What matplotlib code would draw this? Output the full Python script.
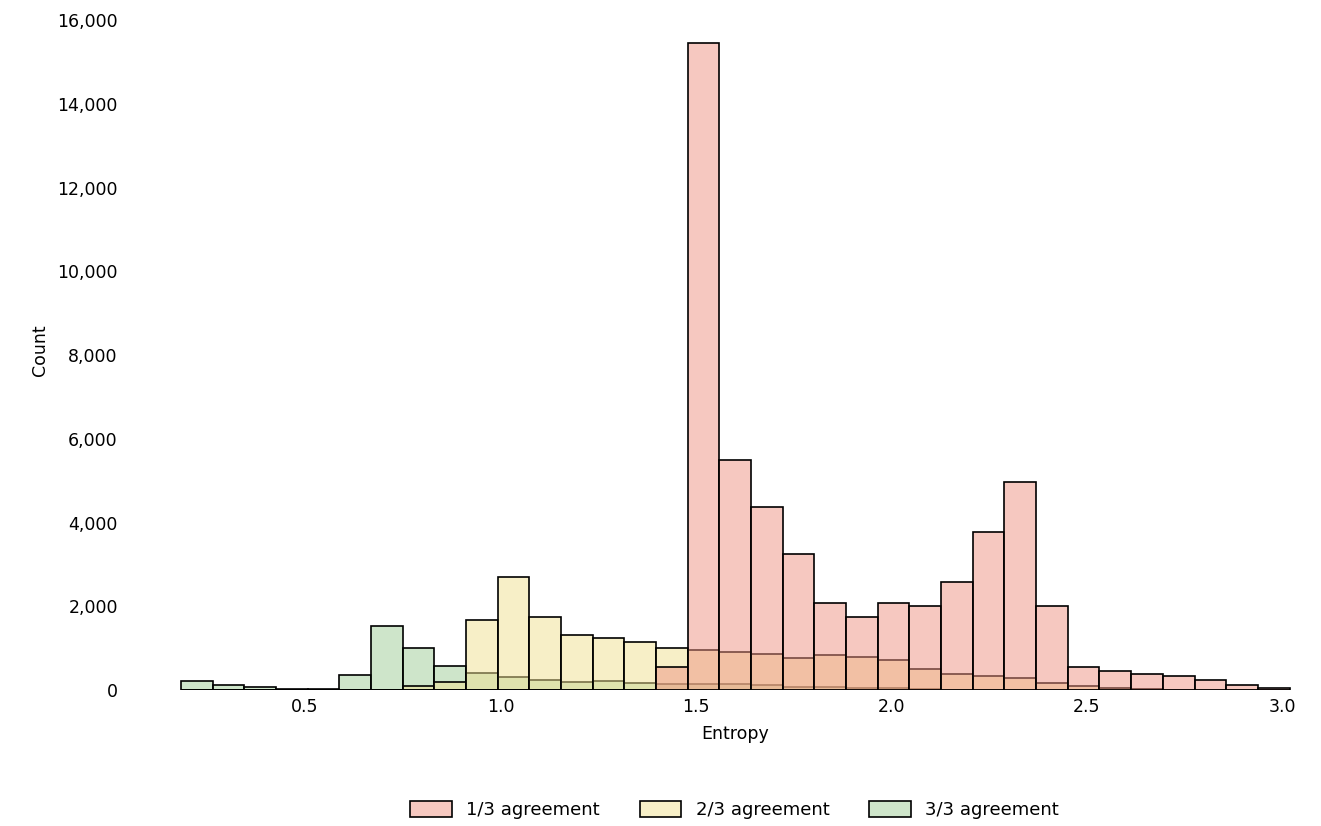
import matplotlib
matplotlib.use('Agg')
import matplotlib.pyplot as plt
import matplotlib.ticker as mticker
import numpy as np

# Histogram bins over the entropy range
bin_lo = 0.183
bin_hi = 3.018
n_bins = 35

# Counts per bin for each agreement group
counts_1of3 = [0, 0, 0, 0, 0, 0, 0, 0, 0, 0, 0, 0, 0, 0, 0,
               550, 15450, 5500, 4370, 3250, 2085, 1750, 2085, 2000, 2580,
               3765, 4970, 2005, 560, 455, 375, 335, 230, 110, 40]
counts_2of3 = [0, 0, 0, 0, 0, 0, 0, 100, 190, 1670, 2705, 1750, 1305, 1240, 1140,
               1000, 955, 920, 860, 760, 835, 790, 710, 500, 380,
               335, 290, 160, 90, 50, 20, 10, 5, 0, 0]
counts_3of3 = [225, 110, 70, 30, 30, 360, 1530, 1000, 573, 415, 320, 240, 190, 215, 160,
               150, 145, 140, 120, 80, 80, 50, 40, 20, 10,
               10, 5, 5, 0, 0, 0, 0, 0, 0, 0]

labels = ['1/3 agreement', '2/3 agreement', '3/3 agreement']
colors = ['#ef9383', '#f1e191', '#9fcd97']

plt.rcParams['font.family'] = ['DejaVu Sans']

fig = plt.figure(figsize=(13.21, 8.26), dpi=100)
ax = fig.add_axes([0.1249, 0.1646, 0.8637, 0.8221])

edges = np.linspace(bin_lo, bin_hi, n_bins + 1)
width = edges[1] - edges[0]

# draw the last group first so 1/3 agreement sits on top
series = [counts_1of3, counts_2of3, counts_3of3]
for counts, color, label in reversed(list(zip(series, colors, labels))):
    ax.bar(edges[:-1], counts, width=width, align='edge',
           facecolor=matplotlib.colors.to_rgba(color, 0.5),
           edgecolor='black', linewidth=1.2, label=label)

ax.set_xlim(0.142, 3.06)
ax.set_ylim(0, 16222)
ax.set_xticks([0.5, 1.0, 1.5, 2.0, 2.5, 3.0])
ax.set_yticks(np.arange(0, 16001, 2000))
ax.yaxis.set_major_formatter(mticker.FuncFormatter(lambda v, p: f'{int(v):,}'))

for s in ax.spines.values():
    s.set_visible(False)
ax.tick_params(axis='y', length=0, pad=34, labelsize=12.5)
ax.tick_params(axis='x', length=0, pad=6, labelsize=12.5)

ax.set_xlabel('Entropy', fontsize=12.5, labelpad=6)
ax.set_ylabel('Count', fontsize=12.5, labelpad=6)

handles, lbls = ax.get_legend_handles_labels()
order = [lbls.index(l) for l in labels]
fig.legend([handles[i] for i in order], [lbls[i] for i in order],
           loc='center', bbox_to_anchor=(0.556, 0.019), ncol=3, frameon=False,
           fontsize=13, handlelength=2.3, handleheight=1.0,
           handletextpad=0.8, columnspacing=2.2)

plt.savefig('out.png', dpi=100, facecolor='white')
plt.close(fig)
